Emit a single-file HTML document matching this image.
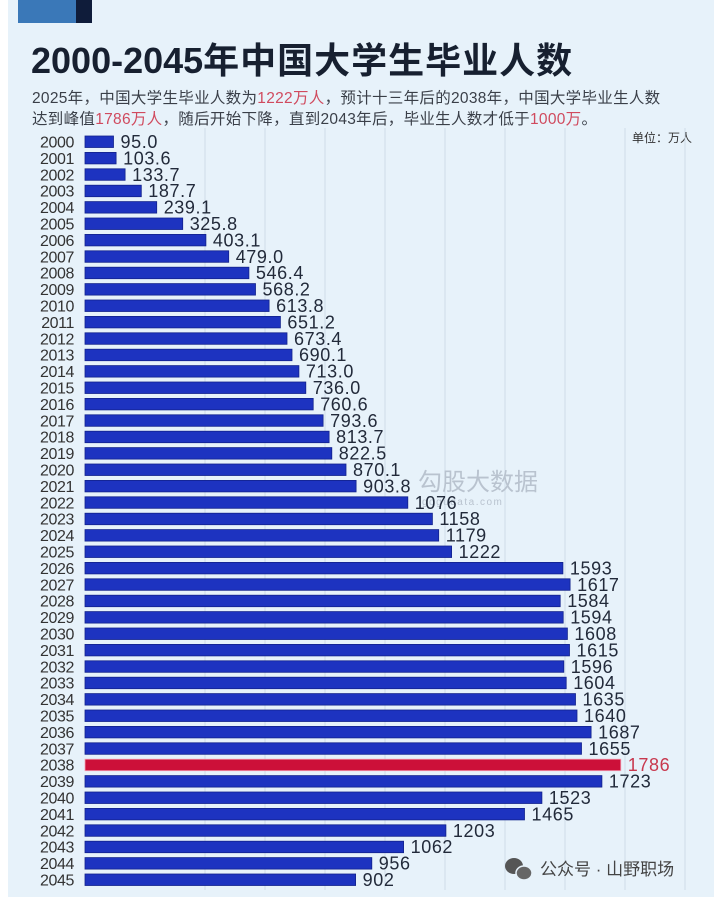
<!DOCTYPE html>
<html><head><meta charset="utf-8">
<style>
html,body{margin:0;padding:0;background:#fff;}
#w{position:relative;width:724px;height:900px;overflow:hidden;background:#fff;font-family:"Liberation Sans","Noto Sans CJK SC",sans-serif;}
#panel{position:absolute;left:8px;top:0;width:706px;height:897px;background:#e7f2fa;}
.blk1{position:absolute;left:18px;top:0;width:58px;height:23px;background:#3a78b8;}
.blk2{position:absolute;left:76px;top:0;width:16px;height:23px;background:#0f1c3a;}
#title{position:absolute;left:31px;top:38px;font-size:36px;font-weight:bold;color:#172030;white-space:nowrap;line-height:46px;}
#title .c{letter-spacing:1px;}
.sub{position:absolute;left:32px;font-size:15.5px;color:#3a3f48;white-space:nowrap;letter-spacing:0.3px;}
.sub b{font-weight:normal;color:#d04a5e;}
#unit{position:absolute;left:632px;top:129px;font-size:12px;color:#333;}
#wm{position:absolute;left:540px;top:855px;font-size:17px;color:#444;white-space:nowrap;}
svg{position:absolute;left:0;top:0;}
</style></head><body><div id="w">
<div id="panel"></div>
<div class="blk1"></div><div class="blk2"></div>
<div id="title">2000-2045<span class="c">年中国大学生毕业人数</span></div>
<div class="sub" style="top:86px">2025年，中国大学生毕业人数为<b>1222万人</b>，预计十三年后的2038年，中国大学毕业生人数</div>
<div class="sub" style="top:107px">达到峰值<b>1786万人</b>，随后开始下降，直到2043年后，毕业生人数才低于<b>1000万</b>。</div>
<div id="unit">单位：万人</div>
<svg width="724" height="900" xmlns="http://www.w3.org/2000/svg">
<g stroke="#cfdce8" stroke-width="1">
<line x1="205" y1="128" x2="205" y2="890"/><line x1="265" y1="128" x2="265" y2="890"/><line x1="325" y1="128" x2="325" y2="890"/><line x1="385" y1="128" x2="385" y2="890"/><line x1="445" y1="128" x2="445" y2="890"/><line x1="505" y1="128" x2="505" y2="890"/><line x1="565" y1="128" x2="565" y2="890"/><line x1="625" y1="128" x2="625" y2="890"/><line x1="685" y1="128" x2="685" y2="890"/>
</g>
<text x="418" y="490" font-size="24" fill="#b9c3cf" font-family="Noto Sans CJK SC, sans-serif">勾股大数据</text>
<text x="422" y="505" font-size="10" fill="#b9c3cf" letter-spacing="1.5">gogudata.com</text>
<g id="bars" fill="#1d33c0" stroke="#12228c" stroke-width="0.8">
<rect x="85" y="136.0" width="28.5" height="11.5"/>
<rect x="85" y="152.4" width="31.1" height="11.5"/>
<rect x="85" y="168.8" width="40.1" height="11.5"/>
<rect x="85" y="185.2" width="56.3" height="11.5"/>
<rect x="85" y="201.6" width="71.7" height="11.5"/>
<rect x="85" y="218.0" width="97.7" height="11.5"/>
<rect x="85" y="234.4" width="120.9" height="11.5"/>
<rect x="85" y="250.8" width="143.7" height="11.5"/>
<rect x="85" y="267.2" width="163.9" height="11.5"/>
<rect x="85" y="283.6" width="170.5" height="11.5"/>
<rect x="85" y="300.0" width="184.1" height="11.5"/>
<rect x="85" y="316.4" width="195.4" height="11.5"/>
<rect x="85" y="332.8" width="202.0" height="11.5"/>
<rect x="85" y="349.2" width="207.0" height="11.5"/>
<rect x="85" y="365.6" width="213.9" height="11.5"/>
<rect x="85" y="382.0" width="220.8" height="11.5"/>
<rect x="85" y="398.4" width="228.2" height="11.5"/>
<rect x="85" y="414.8" width="238.1" height="11.5"/>
<rect x="85" y="431.2" width="244.1" height="11.5"/>
<rect x="85" y="447.6" width="246.8" height="11.5"/>
<rect x="85" y="464.0" width="261.0" height="11.5"/>
<rect x="85" y="480.4" width="271.1" height="11.5"/>
<rect x="85" y="496.8" width="322.8" height="11.5"/>
<rect x="85" y="513.2" width="347.4" height="11.5"/>
<rect x="85" y="529.6" width="353.7" height="11.5"/>
<rect x="85" y="546.0" width="366.6" height="11.5"/>
<rect x="85" y="562.4" width="477.9" height="11.5"/>
<rect x="85" y="578.8" width="485.1" height="11.5"/>
<rect x="85" y="595.2" width="475.2" height="11.5"/>
<rect x="85" y="611.6" width="478.2" height="11.5"/>
<rect x="85" y="628.0" width="482.4" height="11.5"/>
<rect x="85" y="644.4" width="484.5" height="11.5"/>
<rect x="85" y="660.8" width="478.8" height="11.5"/>
<rect x="85" y="677.2" width="481.2" height="11.5"/>
<rect x="85" y="693.6" width="490.5" height="11.5"/>
<rect x="85" y="710.0" width="492.0" height="11.5"/>
<rect x="85" y="726.4" width="506.1" height="11.5"/>
<rect x="85" y="742.8" width="496.5" height="11.5"/>
<rect x="85" y="759.2" width="535.8" height="11.5" fill="#cc1039" stroke="#f3a0b4"/>
<rect x="85" y="775.6" width="516.9" height="11.5"/>
<rect x="85" y="792.0" width="456.9" height="11.5"/>
<rect x="85" y="808.4" width="439.5" height="11.5"/>
<rect x="85" y="824.8" width="360.9" height="11.5"/>
<rect x="85" y="841.2" width="318.6" height="11.5"/>
<rect x="85" y="857.6" width="286.8" height="11.5"/>
<rect x="85" y="874.0" width="270.6" height="11.5"/>
</g>
<g font-size="16" fill="#333" text-anchor="end" letter-spacing="-0.4">
<text x="74" y="147.5">2000</text><text x="74" y="163.9">2001</text><text x="74" y="180.3">2002</text><text x="74" y="196.7">2003</text><text x="74" y="213.1">2004</text><text x="74" y="229.5">2005</text><text x="74" y="245.9">2006</text><text x="74" y="262.3">2007</text><text x="74" y="278.7">2008</text><text x="74" y="295.1">2009</text><text x="74" y="311.5">2010</text><text x="74" y="327.9">2011</text><text x="74" y="344.3">2012</text><text x="74" y="360.7">2013</text><text x="74" y="377.1">2014</text><text x="74" y="393.5">2015</text><text x="74" y="409.9">2016</text><text x="74" y="426.3">2017</text><text x="74" y="442.7">2018</text><text x="74" y="459.1">2019</text><text x="74" y="475.5">2020</text><text x="74" y="491.9">2021</text><text x="74" y="508.3">2022</text><text x="74" y="524.7">2023</text><text x="74" y="541.1">2024</text><text x="74" y="557.5">2025</text><text x="74" y="573.9">2026</text><text x="74" y="590.3">2027</text><text x="74" y="606.7">2028</text><text x="74" y="623.1">2029</text><text x="74" y="639.5">2030</text><text x="74" y="655.9">2031</text><text x="74" y="672.3">2032</text><text x="74" y="688.7">2033</text><text x="74" y="705.1">2034</text><text x="74" y="721.5">2035</text><text x="74" y="737.9">2036</text><text x="74" y="754.3">2037</text><text x="74" y="770.7">2038</text><text x="74" y="787.1">2039</text><text x="74" y="803.5">2040</text><text x="74" y="819.9">2041</text><text x="74" y="836.3">2042</text><text x="74" y="852.7">2043</text><text x="74" y="869.1">2044</text><text x="74" y="885.5">2045</text>
</g>
<g font-size="18" fill="#222a3a" letter-spacing="0.6">
<text x="120.5" y="148">95.0</text>
<text x="123.1" y="164.4">103.6</text>
<text x="132.1" y="180.8">133.7</text>
<text x="148.3" y="197.2">187.7</text>
<text x="163.7" y="213.6">239.1</text>
<text x="189.7" y="230">325.8</text>
<text x="212.9" y="246.4">403.1</text>
<text x="235.7" y="262.8">479.0</text>
<text x="255.9" y="279.2">546.4</text>
<text x="262.5" y="295.6">568.2</text>
<text x="276.1" y="312">613.8</text>
<text x="287.4" y="328.4">651.2</text>
<text x="294" y="344.8">673.4</text>
<text x="299" y="361.2">690.1</text>
<text x="305.9" y="377.6">713.0</text>
<text x="312.8" y="394">736.0</text>
<text x="320.2" y="410.4">760.6</text>
<text x="330.1" y="426.8">793.6</text>
<text x="336.1" y="443.2">813.7</text>
<text x="338.8" y="459.6">822.5</text>
<text x="353" y="476">870.1</text>
<text x="363.1" y="492.4">903.8</text>
<text x="414.8" y="508.8">1076</text>
<text x="439.4" y="525.2">1158</text>
<text x="445.7" y="541.6">1179</text>
<text x="458.6" y="558">1222</text>
<text x="569.9" y="574.4">1593</text>
<text x="577.1" y="590.8">1617</text>
<text x="567.2" y="607.2">1584</text>
<text x="570.2" y="623.6">1594</text>
<text x="574.4" y="640">1608</text>
<text x="576.5" y="656.4">1615</text>
<text x="570.8" y="672.8">1596</text>
<text x="573.2" y="689.2">1604</text>
<text x="582.5" y="705.6">1635</text>
<text x="584" y="722">1640</text>
<text x="598.1" y="738.4">1687</text>
<text x="588.5" y="754.8">1655</text>
<text x="627.8" y="771.2" fill="#c8384e">1786</text>
<text x="608.9" y="787.6">1723</text>
<text x="548.9" y="804">1523</text>
<text x="531.5" y="820.4">1465</text>
<text x="452.9" y="836.8">1203</text>
<text x="410.6" y="853.2">1062</text>
<text x="378.8" y="869.6">956</text>
<text x="362.6" y="886">902</text>
</g>
<g fill="#555">
<ellipse cx="514" cy="866" rx="9" ry="8"/>
<ellipse cx="524" cy="873" rx="8" ry="7" fill="#666" stroke="#e7f2fa" stroke-width="1.5"/>
</g>
</svg>
<div id="wm">公众号 · 山野职场</div>
</div></body></html>
